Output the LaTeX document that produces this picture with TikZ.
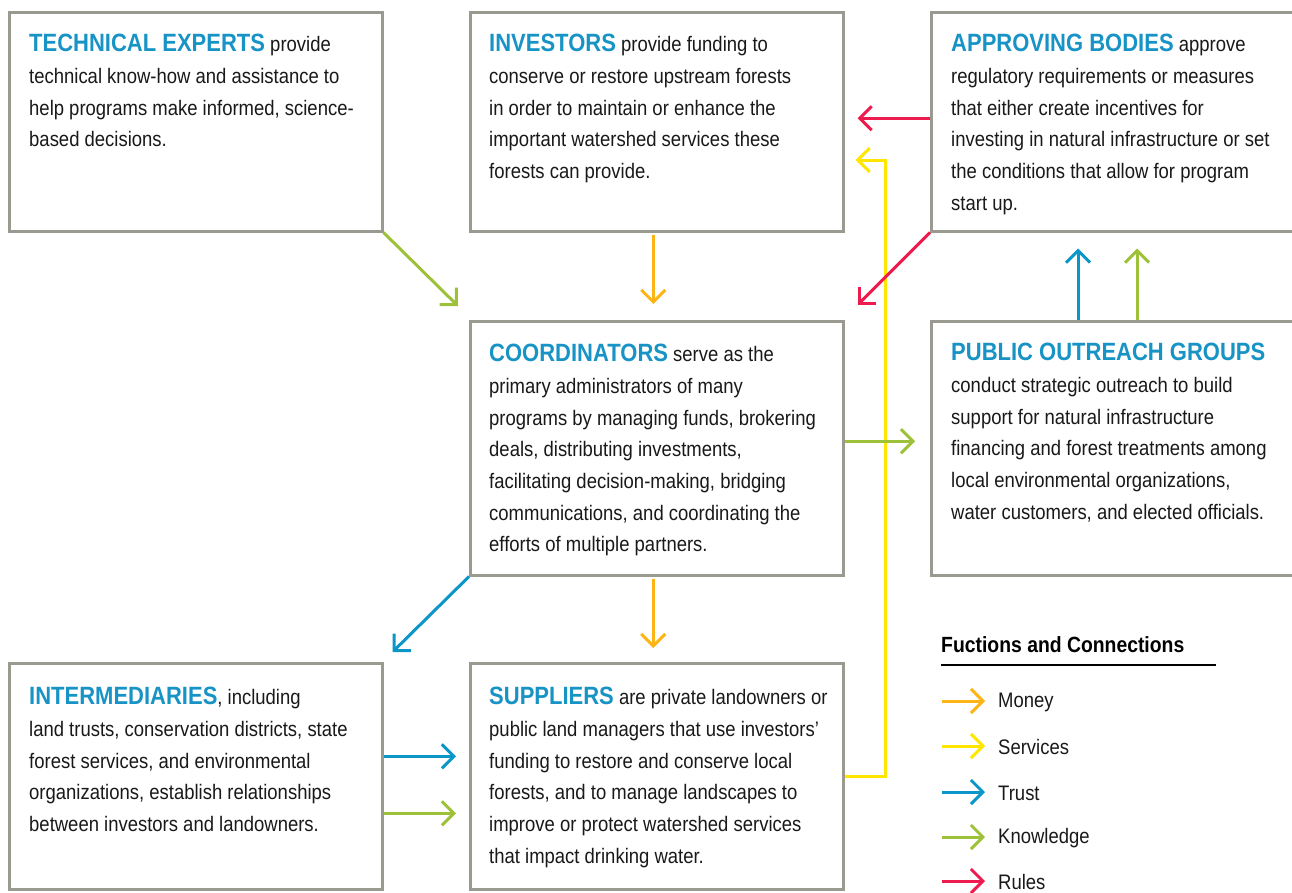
\documentclass[tikz,border=0pt]{standalone}
\usepackage{fontspec}
\setmainfont{Liberation Sans}[FakeStretch=0.88]
\usetikzlibrary{arrows.meta}
\definecolor{boxgray}{HTML}{9A9A90}
\definecolor{headblue}{HTML}{1793C5}
\definecolor{cmoney}{HTML}{FDB515}
\definecolor{cserv}{HTML}{FFE600}
\definecolor{ctrust}{HTML}{0A96C8}
\definecolor{cknow}{HTML}{9DC23A}
\definecolor{crules}{HTML}{EE1C4E}
\newcommand{\hd}[1]{{\fontsize{25}{31.7}\selectfont\bfseries\color{headblue}#1}}
\tikzset{
  box/.style={draw=boxgray, line width=2.5pt, rectangle, anchor=north west, inner sep=0pt},
  txt/.style={anchor=north west, inner sep=0pt, align=left, font=\fontsize{21}{31.7}\selectfont, text=black!90},
  flow/.style={line width=3pt, -{Straight Barb[length=12pt,width=24pt]}},
  money/.style={flow, draw=cmoney},
  serv/.style={flow, draw=cserv},
  trust/.style={flow, draw=ctrust},
  know/.style={flow, draw=cknow},
  rules/.style={flow, draw=crules},
  leg/.style={anchor=west, inner sep=0pt, font=\fontsize{21}{24}\selectfont, text=black!90}
}
\begin{document}
\begin{tikzpicture}[x=1pt,y=-1pt]
\useasboundingbox[fill=white] (0,0) rectangle (1292,892);
% boxes
\node[box, minimum width=373, minimum height=219] (tech) at (8,11) {};
\node[box, minimum width=373, minimum height=219] (inv) at (469,11) {};
\node[box, minimum width=366, minimum height=219] (appr) at (930,11) {};
\node[box, minimum width=373, minimum height=254] (coord) at (469,320) {};
\node[box, minimum width=366, minimum height=254] (pub) at (930,320) {};
\node[box, minimum width=373, minimum height=226] (inter) at (8,662) {};
\node[box, minimum width=373, minimum height=226] (sup) at (469,662) {};
% texts
\node[txt] (ttech) at (29,34) {\hd{TECHNICAL EXPERTS} provide\\technical know-how and assistance to\\help programs make informed, science-\\based decisions.};
\node[txt] (tinv) at (489,34) {\hd{INVESTORS} provide funding to\\conserve or restore upstream forests\\in order to maintain or enhance the\\important watershed services these\\forests can provide.};
\node[txt] (tappr) at (951,34) {\hd{APPROVING BODIES} approve\\regulatory requirements or measures\\that either create incentives for\\investing in natural infrastructure or set\\the conditions that allow for program\\start up.};
\node[txt] (tcoord) at (489,344) {\hd{COORDINATORS} serve as the\\primary administrators of many\\programs by managing funds, brokering\\deals, distributing investments,\\facilitating decision-making, bridging\\communications, and coordinating the\\efforts of multiple partners.};
\node[txt] (tpub) at (951,343) {\hd{PUBLIC OUTREACH GROUPS}\\conduct strategic outreach to build\\support for natural infrastructure\\financing and forest treatments among\\local environmental organizations,\\water customers, and elected officials.};
\node[txt] (tinter) at (29,687) {\hd{INTERMEDIARIES}, including\\land trusts, conservation districts, state\\forest services, and environmental\\organizations, establish relationships\\between investors and landowners.};
\node[txt] (tsup) at (489,687) {\hd{SUPPLIERS} are private landowners or\\public land managers that use investors’\\funding to restore and conserve local\\forests, and to manage landscapes to\\improve or protect watershed services\\that impact drinking water.};
% connectors
\draw[know] (tech.south east) -- ([xshift=-11pt,yshift=14pt]coord.north west);
\draw[money] ([xshift=-3.5pt,yshift=-2pt]inv.south) -- ([xshift=-3.5pt,yshift=16pt]coord.north);
\draw[rules] ([yshift=3.5pt]appr.west) -- ([xshift=13pt,yshift=3.5pt]inv.east);
\coordinate (sv) at (885,160);
\draw[serv] (sup.east) -| (sv) -- ([xshift=11pt]inv.east |- sv);
\draw[rules] (appr.south west) -- ([xshift=13pt,yshift=15pt]coord.north east);
\draw[know] ([yshift=7pt]coord.east) -- ([xshift=-15pt,yshift=7pt]pub.west);
\draw[trust] ([xshift=148pt]pub.north west) -- ([xshift=148pt,yshift=-16pt]appr.south west);
\draw[know] ([xshift=207pt]pub.north west) -- ([xshift=207pt,yshift=-16pt]appr.south west);
\draw[trust] (coord.south west) -- ([xshift=9pt,yshift=10pt]inter.north east);
\draw[money] ([xshift=-3.5pt,yshift=-2pt]coord.south) -- ([xshift=-3.5pt,yshift=14pt]sup.north);
\draw[trust] ([yshift=20pt]inter.east) -- ([xshift=-13pt,yshift=20pt]sup.west);
\draw[know] ([yshift=-37pt]inter.east) -- ([xshift=-13pt,yshift=-37pt]sup.west);
% legend
\node[anchor=base west, inner sep=0pt, font=\fontsize{22}{24}\selectfont\bfseries] (ltitle) at (941,652) {Fuctions and Connections};
\coordinate (ul1) at (941,665);
\coordinate (ul2) at (1216,665);
\draw[line width=1.3pt] (ul1) -- (ul2);
\foreach \y/\lab/\sty [count=\i] in {701/Money/money, 746/Services/serv, 792/Trust/trust, 837/Knowledge/know, 881/Rules/rules}{
  \coordinate (la\i) at (942,\y);
  \coordinate (lb\i) at (985,\y);
  \draw[\sty] (la\i) -- (lb\i);
  \node[leg] (lt\i) at (998,\y+1) {\lab};
}
\end{tikzpicture}
\end{document}
